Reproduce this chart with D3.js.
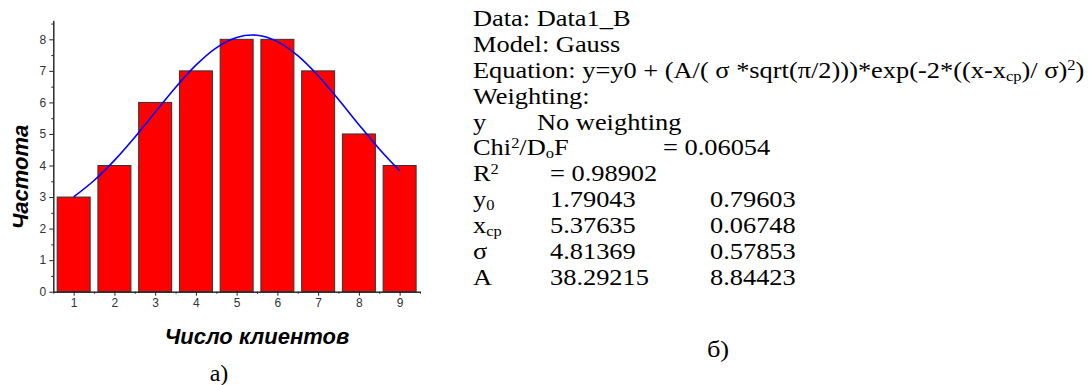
<!DOCTYPE html>
<html>
<head>
<meta charset="utf-8">
<script src="https://cdn.jsdelivr.net/npm/d3@7"></script>
<style>
  html, body { margin: 0; padding: 0; background: #fff; }
  svg { display: block; }
</style>
</head>
<body>
<svg id="chart" width="1090" height="385"></svg>
<script>
// ---- data ----
const categories = [1, 2, 3, 4, 5, 6, 7, 8, 9];
const frequencies = [3, 4, 6, 7, 8, 8, 7, 5, 4];
const fitX = [1, 1.5, 2, 2.5, 3, 3.5, 4, 4.5, 5, 5.5, 6, 6.5, 7, 7.5, 8, 8.5, 9];
const fitY = [3.006, 3.525, 4.163, 4.898, 5.689, 6.474, 7.180, 7.730, 8.060, 8.129, 7.928, 7.482, 6.846, 6.091, 5.294, 4.525, 3.834];
const yTicks = [0, 1, 2, 3, 4, 5, 6, 7, 8];
const xTitle = "Число клиентов";
const yTitle = "Частота";
const paramNames = ["y0", "xcp", "σ", "A"];
const paramValues = ["1.79043", "5.37635", "4.81369", "38.29215"];
const paramErrors = ["0.79603", "0.06748", "0.57853", "8.84423"];

const svg = d3.select("#chart");

// ---- left chart ----
const x = d3.scaleLinear().domain([0.5, 9.5]).range([53.3, 420]);
const y = d3.scaleLinear().domain([0, 8.6]).range([291.7, 20.4]);
const barHalf = 0.405;

const g = svg.append("g");

g.selectAll("rect.bar").data(categories).enter().append("rect")
  .attr("class", "bar")
  .attr("x", (d) => x(d - barHalf))
  .attr("width", (d) => x(d + barHalf) - x(d - barHalf))
  .attr("y", (d, i) => y(frequencies[i]))
  .attr("height", (d, i) => y(0) - y(frequencies[i]))
  .attr("fill", "#ff0000")
  .attr("stroke", "#333")
  .attr("stroke-width", 1);

// fitted curve
const line = d3.line().x((d) => x(d)).y((d, i) => y(fitY[i])).curve(d3.curveCardinal);
g.append("path").attr("d", line(fitX))
  .attr("fill", "none").attr("stroke", "#0000ff").attr("stroke-width", 1.6);

// axes
const axisColor = "#222";
const xAxis = d3.axisBottom(x).tickValues(categories).tickSize(4).tickSizeOuter(0).tickPadding(3);
const xMinor = d3.axisBottom(x).tickValues(d3.range(0.5, 9.6, 1)).tickSize(2).tickFormat("").tickSizeOuter(0);
const yAxis = d3.axisLeft(y).tickValues(yTicks).tickSize(4).tickSizeOuter(0).tickPadding(3);
const yMinor = d3.axisLeft(y).tickValues(d3.range(0.5, 8.6, 1)).tickSize(2).tickFormat("").tickSizeOuter(0);

function styleAxis(sel) {
  sel.selectAll("path,line").attr("stroke", axisColor);
  sel.selectAll("text").attr("fill", "#333").style("font-family", "Arial, 'Liberation Sans', sans-serif").style("font-size", "12px");
}
g.append("g").attr("transform", `translate(0,${y(0)})`).call(xMinor).call(styleAxis);
g.append("g").attr("transform", `translate(0,${y(0)})`).call(xAxis).call(styleAxis);
g.append("g").attr("transform", `translate(${x(0.5)},0)`).call(yMinor).call(styleAxis);
g.append("g").attr("transform", `translate(${x(0.5)},0)`).call(yAxis).call(styleAxis);

// axis titles
g.append("text").text(xTitle)
  .attr("x", 257).attr("y", 344)
  .attr("text-anchor", "middle")
  .style("font-family", "Arial, 'Liberation Sans', sans-serif")
  .style("font-weight", "bold").style("font-style", "italic").style("font-size", "22px");
g.append("text").text(yTitle)
  .attr("transform", "translate(28,177) rotate(-90)")
  .attr("text-anchor", "middle")
  .style("font-family", "Arial, 'Liberation Sans', sans-serif")
  .style("font-weight", "bold").style("font-style", "italic").style("font-size", "22px");

const serif = "'Liberation Serif', 'Times New Roman', serif";
g.append("text").text("а)")
  .attr("x", 219).attr("y", 381).attr("text-anchor", "middle")
  .style("font-family", serif).style("font-size", "24px");

// ---- right text panel ----
const left = 473;
const sx = 1.1;
const t = svg.append("g")
  .attr("transform", `translate(${left},0) scale(${sx},1)`)
  .style("font-family", serif).style("font-size", "24px").attr("fill", "#000");
const lh = 25.9;
const base0 = 26;
const subSize = "15px";

function addLine(row, parts, xPos) {
  const txt = t.append("text").attr("x", (xPos - left) / sx).attr("y", base0 + row * lh);
  parts.forEach((p) => {
    if (typeof p === "string") {
      txt.append("tspan").text(p);
    } else {
      txt.append("tspan").text(p.t)
        .attr("baseline-shift", p.sub ? "-3" : "8")
        .style("font-size", subSize);
    }
  });
  return txt;
}

addLine(0, ["Data: Data1_B"], left);
addLine(1, ["Model: Gauss"], left);
addLine(2, ["Equation: y=y0 + (A/( σ *sqrt(π/2)))*exp(-2*((x-x", {t: "cp", sub: true}, ")/ σ)", {t: "2"}, ")"], left);
addLine(3, ["Weighting:"], left);
addLine(4, ["y"], left);
addLine(4, ["No weighting"], 537);
addLine(5, ["Chi", {t: "2"}, "/D", {t: "o", sub: true}, "F"], left);
addLine(5, ["= 0.06054"], 663);
addLine(6, ["R", {t: "2"}], left);
addLine(6, ["= 0.98902"], 550);

paramNames.forEach((name, i) => {
  const row = 7 + i;
  if (name === "y0") addLine(row, ["y", {t: "0", sub: true}], left);
  else if (name === "xcp") addLine(row, ["x", {t: "cp", sub: true}], left);
  else addLine(row, [name], left);
  addLine(row, [paramValues[i]], 550);
  addLine(row, [paramErrors[i]], 710);
});

t.append("text").text("б)").attr("x", (718 - left) / sx).attr("y", 357).attr("text-anchor", "middle");
</script>
</body>
</html>
